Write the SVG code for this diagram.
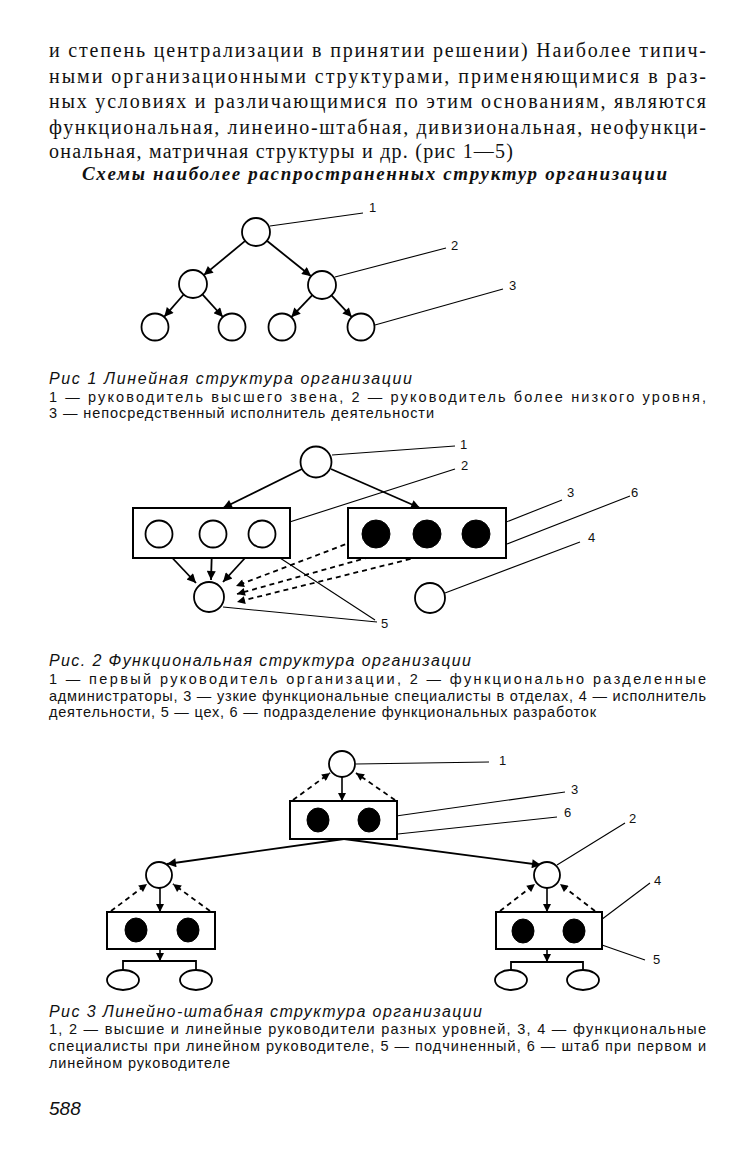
<svg xmlns="http://www.w3.org/2000/svg" width="732" height="1150" viewBox="0 0 732 1150">
<style>
.bg{fill:#fff}
.body{font-family:"Liberation Serif","Times New Roman",serif;font-size:20px;fill:#111}
.head{font-family:"Liberation Serif","Times New Roman",serif;font-size:19px;font-weight:bold;font-style:italic;fill:#111}
.cap{font-family:"Liberation Sans",Arial,sans-serif;font-size:16px;font-style:italic;fill:#111}
.desc{font-family:"Liberation Sans",Arial,sans-serif;font-size:14.5px;fill:#111}
.lbl{font-family:"Liberation Sans",Arial,sans-serif;font-size:13px;fill:#111}
.pg{font-family:"Liberation Sans",Arial,sans-serif;font-size:19px;font-style:italic;fill:#111}
.node{fill:#fff;stroke:#000;stroke-width:1.8}
.dot{fill:#000;stroke:#000;stroke-width:1}
.box{fill:#fff;stroke:#000;stroke-width:2}
.arr{fill:none;stroke:#000;stroke-width:1.8;marker-end:url(#ah)}
.arrs{fill:none;stroke:#000;stroke-width:1.6;marker-end:url(#ahs)}
.dash{fill:none;stroke:#000;stroke-width:1.8;stroke-dasharray:5 4;marker-end:url(#ahs)}
.lead{fill:none;stroke:#000;stroke-width:1.1}
.ln{fill:none;stroke:#000;stroke-width:1.8}
</style>
<defs>
<marker id="ah" viewBox="0 0 10 10" refX="10" refY="5" markerWidth="11" markerHeight="9" markerUnits="userSpaceOnUse" orient="auto"><path d="M0,0 L10,5 L0,10 z" fill="#000"/></marker>
<marker id="ahs" viewBox="0 0 10 10" refX="10" refY="5" markerWidth="9" markerHeight="8" markerUnits="userSpaceOnUse" orient="auto"><path d="M0,0 L10,5 L0,10 z" fill="#000"/></marker>
</defs>
<rect class="bg" x="0" y="0" width="732" height="1150"/>

<g id="text-top">
<text class="body" x="49" y="57" textLength="657" lengthAdjust="spacing">и степень централизации в принятии решении)  Наиболее типич-</text>
<text class="body" x="49" y="83" textLength="657" lengthAdjust="spacing">ными организационными структурами, применяющимися в раз-</text>
<text class="body" x="49" y="108" textLength="657" lengthAdjust="spacing">ных условиях и различающимися по этим основаниям, являются</text>
<text class="body" x="49" y="134" textLength="657" lengthAdjust="spacing">функциональная, линеино-штабная, дивизиональная, неофункци-</text>
<text class="body" x="49" y="158" textLength="464" lengthAdjust="spacing">ональная, матричная структуры и др. (рис  1—5)</text>
<text class="head" x="82" y="180" textLength="585" lengthAdjust="spacing">Схемы наиболее распространенных структур организации</text>
</g>

<!-- Figure 1 -->
<g id="fig1-connectors">
<line class="arr" x1="245.2" y1="240.9" x2="203.8" y2="275.1"/>
<line class="arr" x1="266.9" y1="240.8" x2="311.1" y2="276.2"/>
<line class="arr" x1="183.7" y1="294.5" x2="164.3" y2="316.7"/>
<line class="arr" x1="202.4" y1="294.4" x2="222.9" y2="317"/>
<line class="arr" x1="312.3" y1="295.1" x2="291.3" y2="317.2"/>
<line class="arr" x1="331.5" y1="295.3" x2="351.8" y2="317.1"/>
<line class="lead" x1="270" y1="226" x2="363" y2="213"/>
<line class="lead" x1="335" y1="277" x2="446" y2="248"/>
<line class="lead" x1="375" y1="325" x2="503" y2="289"/>
</g>
<g id="fig1-n1"><circle class="node" cx="256" cy="232" r="14"/></g>
<g id="fig1-n2a"><circle class="node" cx="193" cy="284" r="14"/></g>
<g id="fig1-n2b"><circle class="node" cx="322" cy="285" r="14"/></g>
<g id="fig1-n3a"><circle class="node" cx="155" cy="327" r="13.5"/></g>
<g id="fig1-n3b"><circle class="node" cx="232" cy="327" r="13.5"/></g>
<g id="fig1-n3c"><circle class="node" cx="282" cy="327" r="13.5"/></g>
<g id="fig1-n3d"><circle class="node" cx="361" cy="327" r="13.5"/></g>
<g id="fig1-labels">
<text class="lbl" x="369" y="212">1</text>
<text class="lbl" x="451" y="250">2</text>
<text class="lbl" x="509" y="290">3</text>
</g>
<g id="cap1">
<text class="cap" x="49" y="384" textLength="363" lengthAdjust="spacing">Рис  1  Линейная структура организации</text>
<text class="desc" x="49" y="402" textLength="657" lengthAdjust="spacing">1 — руководитель высшего звена, 2 — руководитель более низкого уровня,</text>
<text class="desc" x="49" y="418" textLength="385" lengthAdjust="spacing">3 — непосредственный исполнитель деятельности</text>
</g>

<!-- Figure 2 -->
<g id="fig2-connectors">
<line class="arr" x1="302" y1="469" x2="223" y2="508"/>
<line class="arr" x1="331" y1="469" x2="420" y2="508"/>
<line class="arr" x1="162" y1="547" x2="196" y2="583"/>
<line class="arr" x1="212" y1="547" x2="211" y2="580"/>
<line class="arr" x1="256" y1="546" x2="223" y2="582"/>
<line class="dash" x1="362" y1="538" x2="236" y2="586"/>
<line class="dash" x1="413" y1="545" x2="237" y2="594"/>
<line class="dash" x1="463" y1="546" x2="237" y2="602"/>
<line class="lead" x1="332" y1="455" x2="455" y2="446"/>
<line class="lead" x1="274" y1="527" x2="455" y2="469"/>
<line class="lead" x1="491" y1="528" x2="562" y2="500"/>
<line class="lead" x1="507" y1="544" x2="630" y2="496"/>
<line class="lead" x1="445" y1="593" x2="580" y2="542"/>
<line class="lead" x1="223" y1="607" x2="377" y2="622"/>
<line class="lead" x1="280" y1="558" x2="375" y2="620"/>
</g>
<g id="fig2-n1"><circle class="node" cx="316" cy="462" r="15.5"/></g>
<g id="fig2-admins">
<rect class="box" x="133" y="508" width="157" height="50"/>
<circle class="node" cx="159" cy="534" r="13.5"/>
<circle class="node" cx="213" cy="534" r="13.5"/>
<circle class="node" cx="262" cy="534" r="13.5"/>
</g>
<g id="fig2-dept">
<rect class="box" x="348" y="508" width="158" height="50"/>
<circle class="dot" cx="376" cy="534" r="14"/>
<circle class="dot" cx="427" cy="534" r="14"/>
<circle class="dot" cx="476" cy="534" r="14"/>
</g>
<g id="fig2-n5"><circle class="node" cx="209" cy="597" r="15"/></g>
<g id="fig2-n4"><circle class="node" cx="430" cy="598" r="15"/></g>
<g id="fig2-labels">
<text class="lbl" x="460" y="449">1</text>
<text class="lbl" x="461" y="470">2</text>
<text class="lbl" x="567" y="497">3</text>
<text class="lbl" x="631" y="497">6</text>
<text class="lbl" x="588" y="542">4</text>
<text class="lbl" x="381" y="628">5</text>
</g>
<g id="cap2">
<text class="cap" x="49" y="666" textLength="422" lengthAdjust="spacing">Рис. 2  Функциональная структура организации</text>
<text class="desc" x="49" y="684" textLength="657" lengthAdjust="spacing">1 — первый руководитель организации, 2 — функционально разделенные</text>
<text class="desc" x="49" y="701" textLength="657" lengthAdjust="spacing">администраторы, 3 — узкие функциональные специалисты в отделах, 4 — исполнитель</text>
<text class="desc" x="49" y="717" textLength="547" lengthAdjust="spacing">деятельности, 5 — цех, 6 — подразделение функциональных разработок</text>
</g>

<!-- Figure 3 -->
<g id="fig3-connectors">
<line class="arrs" x1="342" y1="777" x2="342" y2="801"/>
<line class="dash" x1="293" y1="800" x2="330" y2="773"/>
<line class="dash" x1="395" y1="800" x2="356" y2="773"/>
<line class="arr" x1="344" y1="839" x2="167" y2="864"/>
<line class="arr" x1="344" y1="839" x2="541" y2="865"/>
<line class="arrs" x1="160" y1="888" x2="160" y2="912"/>
<line class="dash" x1="111" y1="911" x2="147" y2="884"/>
<line class="dash" x1="210" y1="911" x2="173" y2="884"/>
<line class="arrs" x1="160" y1="949" x2="160" y2="961"/>
<path class="ln" d="M123,970 V961 H196 V970"/>
<line class="arrs" x1="547" y1="888" x2="547" y2="912"/>
<line class="dash" x1="500" y1="911" x2="535" y2="884"/>
<line class="dash" x1="595" y1="911" x2="560" y2="884"/>
<line class="arrs" x1="547" y1="949" x2="547" y2="962"/>
<path class="ln" d="M511,971 V962 H583 V971"/>
<line class="lead" x1="356" y1="764" x2="489" y2="762"/>
<line class="lead" x1="382" y1="818" x2="565" y2="792"/>
<line class="lead" x1="398" y1="834" x2="557" y2="817"/>
<line class="lead" x1="557" y1="865" x2="625" y2="823"/>
<line class="lead" x1="585" y1="932" x2="650" y2="883"/>
<line class="lead" x1="602" y1="945" x2="645" y2="960"/>
</g>
<g id="fig3-n1"><circle class="node" cx="342" cy="764" r="13"/></g>
<g id="fig3-staff-top">
<rect class="box" x="290" y="801" width="107" height="38"/>
<ellipse class="dot" cx="318" cy="820" rx="11" ry="12"/>
<ellipse class="dot" cx="369" cy="820" rx="11" ry="12"/>
</g>
<g id="fig3-n2a"><circle class="node" cx="159" cy="875" r="13"/></g>
<g id="fig3-n2b"><circle class="node" cx="547" cy="875" r="13"/></g>
<g id="fig3-staff-left">
<rect class="box" x="107" y="912" width="108" height="37"/>
<ellipse class="dot" cx="136" cy="930" rx="11" ry="12"/>
<ellipse class="dot" cx="188" cy="930" rx="11" ry="12"/>
</g>
<g id="fig3-staff-right">
<rect class="box" x="496" y="912" width="106" height="37"/>
<ellipse class="dot" cx="523" cy="931" rx="11" ry="12"/>
<ellipse class="dot" cx="574" cy="931" rx="11" ry="12"/>
</g>
<g id="fig3-sub-l1"><ellipse class="node" cx="123" cy="980" rx="16" ry="10"/></g>
<g id="fig3-sub-l2"><ellipse class="node" cx="196" cy="980" rx="16" ry="10"/></g>
<g id="fig3-sub-r1"><ellipse class="node" cx="511" cy="980" rx="16" ry="10"/></g>
<g id="fig3-sub-r2"><ellipse class="node" cx="583" cy="980" rx="16" ry="10"/></g>
<g id="fig3-labels">
<text class="lbl" x="499" y="765">1</text>
<text class="lbl" x="571" y="794">3</text>
<text class="lbl" x="564" y="817">6</text>
<text class="lbl" x="629" y="823">2</text>
<text class="lbl" x="654" y="885">4</text>
<text class="lbl" x="653" y="964">5</text>
</g>
<g id="cap3">
<text class="cap" x="49" y="1017" textLength="433" lengthAdjust="spacing">Рис  3  Линейно-штабная структура организации</text>
<text class="desc" x="49" y="1034" textLength="657" lengthAdjust="spacing">1, 2 — высшие и линейные руководители разных уровней, 3, 4 — функциональные</text>
<text class="desc" x="49" y="1051" textLength="657" lengthAdjust="spacing">специалисты при линейном руководителе, 5 — подчиненный, 6 — штаб при первом и</text>
<text class="desc" x="49" y="1068" textLength="181" lengthAdjust="spacing">линейном руководителе</text>
</g>
<text class="pg" x="49" y="1115">588</text>
</svg>
